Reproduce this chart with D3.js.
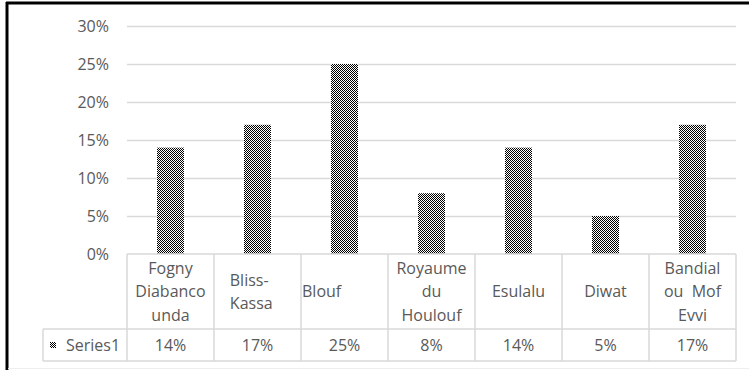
<!DOCTYPE html>
<html>
<head>
<meta charset="utf-8">
<script src="https://cdn.jsdelivr.net/npm/d3@7"></script>
<style>
  html, body { margin: 0; padding: 0; background: #fff; }
  svg { display: block; font-family: "Open Sans", Lato, sans-serif; }
  text { white-space: pre; }
</style>
</head>
<body>
<svg id="chart" width="749" height="370"></svg>
<script>
// ---- data ----
const categories = ["Fogny Diabanco unda", "Bliss-Kassa", "Blouf", "Royaume du Houlouf", "Esulalu", "Diwat", "Bandial ou Mof Evvi"];
const categoryLines = [
  ["Fogny", "Diabanco", "unda"],
  ["Bliss-    ", "Kassa   "],
  ["Blouf           "],
  ["Royaume", "du", "Houlouf"],
  ["Esulalu"],
  ["Diwat"],
  ["Bandial", "ou  Mof", "Evvi"]
];
const seriesName = "Series1";
const values = [0.14, 0.17, 0.25, 0.08, 0.14, 0.05, 0.17];
const yTicks = [0, 0.05, 0.10, 0.15, 0.20, 0.25, 0.30];

// ---- layout ----
const svg = d3.select("#chart");
const plotLeft = 127, plotRight = 736, plotTop = 26, plotBottom = 254;
const row1Bottom = 329, row2Bottom = 361, legendLeft = 43;
const textColor = "#595959", gridColor = "#d9d9d9";
const fontSize = "16px";

const x = d3.scaleBand().domain(categories).range([plotLeft, plotRight])
  .paddingInner(0.69).paddingOuter(0.345);
const step = x.step();
const y = d3.scaleLinear().domain([0, 0.3]).range([plotBottom, plotTop]);

// pattern
const defs = svg.append("defs");
const pat = defs.append("pattern").attr("id", "checker")
  .attr("patternUnits", "userSpaceOnUse").attr("width", 2).attr("height", 2);
pat.append("rect").attr("width", 2).attr("height", 2).attr("fill", "#ffffff");
pat.append("rect").attr("x", 0).attr("y", 0).attr("width", 1).attr("height", 1).attr("fill", "#000");
pat.append("rect").attr("x", 1).attr("y", 1).attr("width", 1).attr("height", 1).attr("fill", "#000");

// frame
svg.append("line").attr("x1", 7).attr("x2", 7).attr("y1", 2).attr("y2", 370)
  .attr("stroke", "#000").attr("stroke-width", 3);
svg.append("line").attr("x1", 6).attr("x2", 749).attr("y1", 3).attr("y2", 3)
  .attr("stroke", "#000").attr("stroke-width", 3);
svg.append("line").attr("x1", 8).attr("x2", 749).attr("y1", 368.5).attr("y2", 368.5)
  .attr("stroke", "#eeeeee").attr("stroke-width", 1);

// gridlines
svg.append("g").selectAll("line").data(yTicks.filter(d => d > 0)).join("line")
  .attr("x1", plotLeft).attr("x2", plotRight)
  .attr("y1", d => Math.round(y(d)) + 0.5).attr("y2", d => Math.round(y(d)) + 0.5)
  .attr("stroke", gridColor).attr("stroke-width", 1.5);

// y axis labels
const yAxis = svg.append("g").attr("transform", "translate(109,0)")
  .call(d3.axisLeft(y).tickValues(yTicks).tickFormat(d3.format(".0%")).tickSize(0).tickPadding(0));
yAxis.select(".domain").remove();
yAxis.selectAll("text").attr("fill", textColor).style("font-size", fontSize)
  .style("font-family", "'Open Sans', sans-serif").attr("dy", "0.36em");

// bars
svg.append("g").selectAll("rect").data(values).join("rect")
  .attr("x", (d, i) => x(categories[i]))
  .attr("width", x.bandwidth())
  .attr("y", d => y(d))
  .attr("height", d => y(0) - y(d))
  .attr("fill", "url(#checker)");

// table grid
const tg = svg.append("g").attr("stroke", gridColor).attr("stroke-width", 1.5);
tg.append("line").attr("x1", plotLeft).attr("x2", plotRight).attr("y1", plotBottom).attr("y2", plotBottom);
tg.append("line").attr("x1", legendLeft).attr("x2", plotRight).attr("y1", row1Bottom).attr("y2", row1Bottom);
tg.append("line").attr("x1", legendLeft).attr("x2", plotRight).attr("y1", row2Bottom).attr("y2", row2Bottom);
tg.append("line").attr("x1", legendLeft).attr("x2", legendLeft).attr("y1", row1Bottom).attr("y2", row2Bottom);
tg.selectAll(".vl").data(d3.range(categories.length + 1)).join("line")
  .attr("x1", i => plotLeft + i * step).attr("x2", i => plotLeft + i * step)
  .attr("y1", plotBottom).attr("y2", row2Bottom);

// category labels
const lineH = 23.5;
const midY = (plotBottom + row1Bottom) / 2;
const catG = svg.append("g").attr("fill", textColor).style("font-size", fontSize);
categoryLines.forEach((lines, i) => {
  const cx = plotLeft + (i + 0.5) * step;
  const t = catG.append("text").attr("text-anchor", "middle");
  lines.forEach((ln, j) => {
    t.append("tspan").attr("x", cx)
      .attr("y", midY + (j - (lines.length - 1) / 2) * lineH)
      .attr("dy", "0.36em").text(ln);
  });
});

// series row
const row2Mid = (row1Bottom + row2Bottom) / 2;
svg.append("rect").attr("x", 50).attr("y", row2Mid - 3).attr("width", 6).attr("height", 6)
  .attr("fill", "url(#checker)");
svg.append("text").attr("x", 66).attr("y", row2Mid).attr("dy", "0.36em")
  .attr("fill", textColor).style("font-size", fontSize).text(seriesName);
svg.append("g").selectAll("text").data(values).join("text")
  .attr("x", (d, i) => plotLeft + (i + 0.5) * step)
  .attr("y", row2Mid).attr("dy", "0.36em").attr("text-anchor", "middle")
  .attr("fill", textColor).style("font-size", fontSize)
  .text(d => d3.format(".0%")(d));
</script>
</body>
</html>
